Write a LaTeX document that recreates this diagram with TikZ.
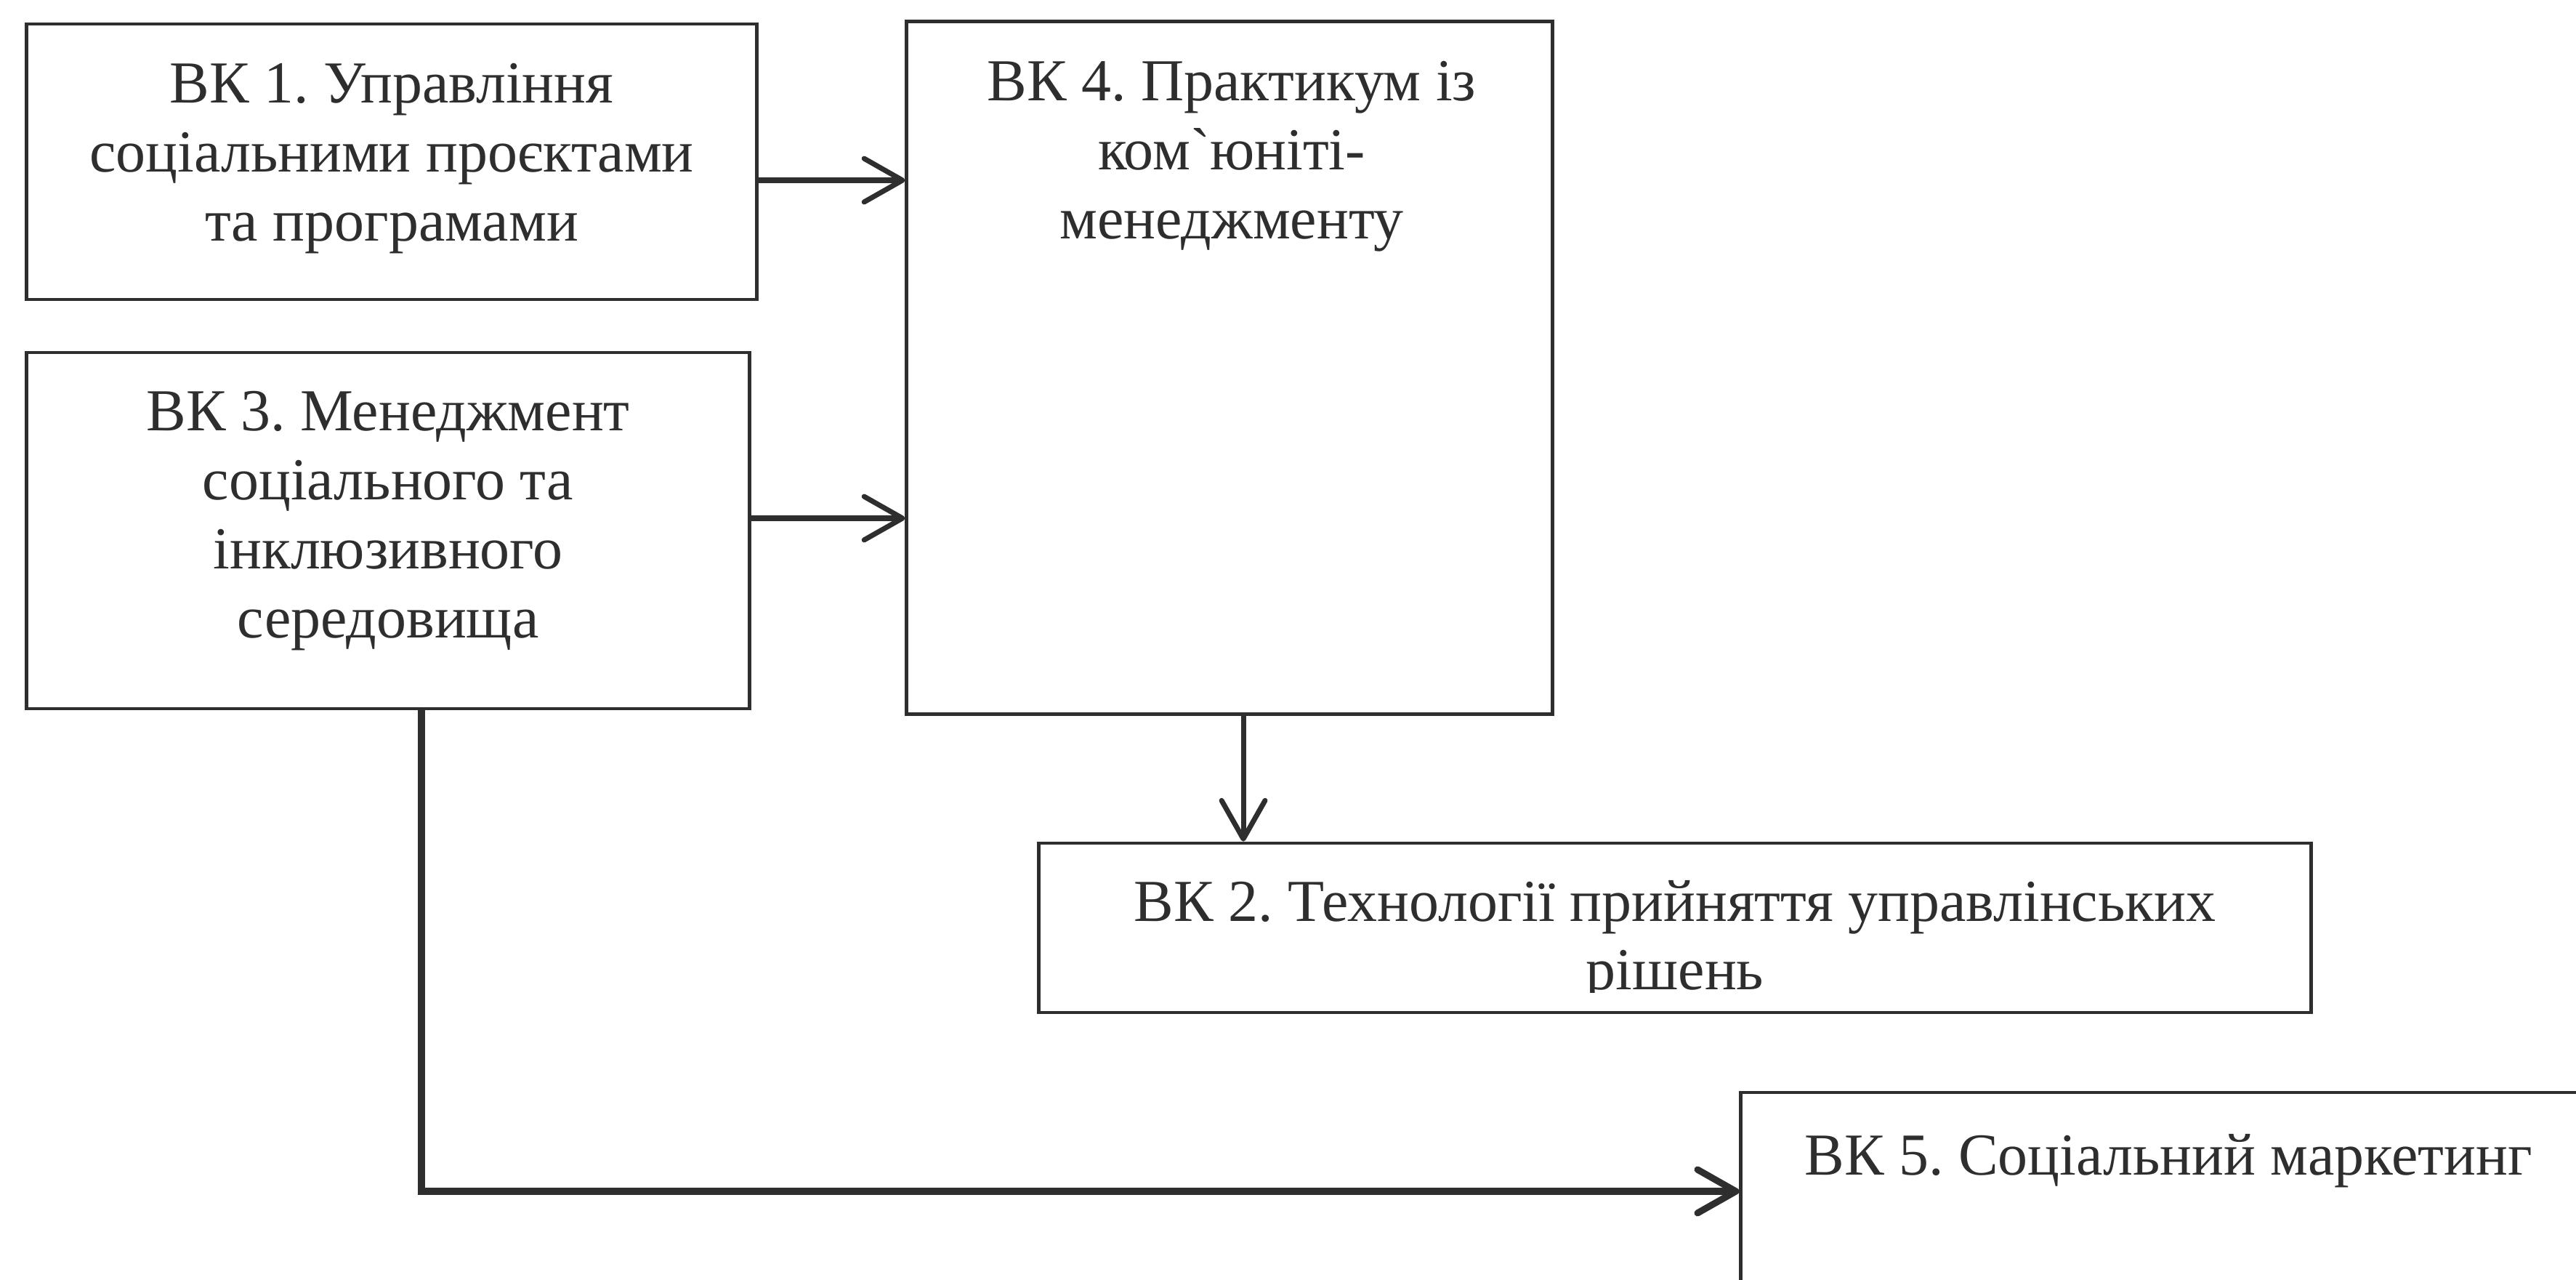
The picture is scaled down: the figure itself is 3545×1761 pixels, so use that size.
\documentclass[tikz,border=0pt]{standalone}
\usepackage{fontspec}
\setmainfont{Liberation Serif}
\newfontfamily\rawserif{Liberation Serif}
\usetikzlibrary{arrows.meta}
\definecolor{ink}{HTML}{2E2E2E}
\frenchspacing
\begin{document}
\begin{tikzpicture}[x=0.01cm, y=-0.01cm,
  box/.style={draw=ink, line width=1.3pt, rectangle, inner sep=0pt},
  lbl/.style={font=\fontsize{23.3}{27}\selectfont, text=ink, inner sep=0pt, anchor=base},
  arr/.style={draw=ink, line width=2pt, line cap=round,
    -{Straight Barb[length=15pt,width=17pt,round]}},
  arrthick/.style={arr, line width=2.6pt}
]
\useasboundingbox (0,0) rectangle (3545,1761);
\clip (0,0) rectangle (3545,1761);
\fill[white] (0,0) rectangle (3545,1761);

% boxes
\node[box, minimum width=10.04cm, minimum height=3.79cm] (vk1) at (539,222.5) {};
\node[box, minimum width=9.94cm, minimum height=4.90cm] (vk3) at (534,730) {};
\node[box, minimum width=8.88cm, minimum height=9.52cm] (vk4) at (1692,506) {};
\node[box, minimum width=17.50cm, minimum height=2.33cm] (vk2) at (2305,1276.5) {};
\node[box, minimum width=11.84cm, minimum height=2.72cm] (vk5) at (2988,1639) {};

% texts
\node[lbl] (t1) at (539,142) {\begin{tabular}[t]{@{}c@{}}ВК 1. Управління\\ соціальними проєктами\\ та програмами\end{tabular}};
\node[lbl] (t3) at (534,593) {\begin{tabular}[t]{@{}c@{}}ВК 3. Менеджмент\\ соціального та\\ інклюзивного\\ середовища\end{tabular}};
\node[lbl] (t4) at (1695,139) {\begin{tabular}[t]{@{}c@{}}ВК 4. Практикум із\\ ком{\rawserif`}юніті-\\ менеджменту\end{tabular}};
\begin{scope}
  \clip (1430,1160) rectangle (3180,1365);
  \node[lbl] (t2) at (2305,1267) {\begin{tabular}[t]{@{}c@{}}ВК 2. Технології прийняття управлінських\\ рішень\end{tabular}};
\end{scope}
\node[lbl] (t5) at (2984,1616) {ВК 5. Соціальний маркетинг};

% connectors
\draw[arr] ([yshift=-0.255cm]vk1.east) -- ([yshift=-0.255cm]vk1.east -| vk4.west);
\draw[arr] ([yshift=0.17cm]vk3.east) -- ([yshift=0.17cm]vk3.east -| vk4.west);
\draw[arr] ([xshift=0.19cm]vk4.south) -- ([xshift=0.19cm]vk4.south |- vk2.north);
\draw[arrthick] ([xshift=0.46cm]vk3.south) |- (vk5.west);
\end{tikzpicture}
\end{document}
